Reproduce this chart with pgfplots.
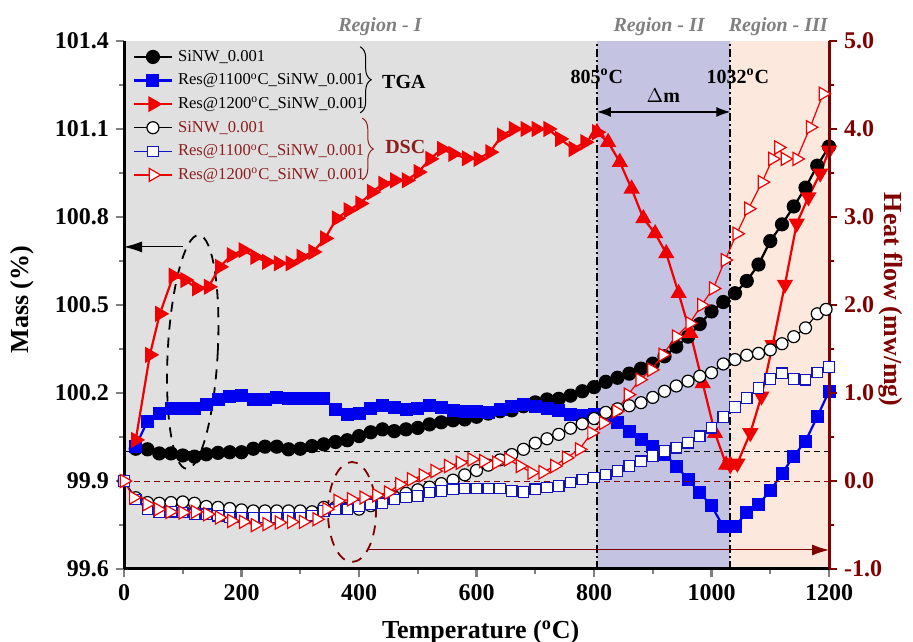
\documentclass[border=0pt]{standalone}
\usepackage{pgfplots}
\pgfplotsset{compat=1.18}
\usepackage{fontspec}
\setmainfont{Liberation Serif}
\usetikzlibrary{decorations.pathreplacing,arrows.meta}
\definecolor{bgI}{RGB}{224,224,224}
\definecolor{bgII}{RGB}{196,196,226}
\definecolor{bgIII}{RGB}{253,232,222}
\definecolor{dbrown}{RGB}{128,0,0}
\definecolor{lbrown}{RGB}{140,30,30}
\definecolor{tred}{RGB}{240,0,0}
\definecolor{tblue}{RGB}{0,0,240}
\definecolor{oblue}{RGB}{20,20,190}
\definecolor{rgray}{RGB}{128,128,128}
\pgfplotsset{
 common/.style={width=352.5pt,height=264pt,scale only axis,xmin=0,xmax=1200,clip=false,
   tick align=outside, major tick length=4pt, minor tick length=2.5pt,
   every tick/.append style={line width=1.1pt},
   tick label style={font=\fontsize{12}{12}\selectfont\bfseries},
   label style={font=\fontsize{13}{13}\selectfont\bfseries},
   /pgf/number format/assume math mode=true,
   /pgf/number format/1000 sep={}},
 tgaK/.style={black, line width=1.1pt, mark=*, mark size=3pt, mark options={solid}},
 tgaB/.style={tblue, line width=1.1pt, mark=square*, mark size=2.7pt, mark options={solid}},
 tgaR/.style={tred, line width=1.1pt, mark=triangle*, mark size=3.6pt, mark options={solid,rotate=-90}},
 dscK/.style={black, line width=0.6pt, mark=*, mark size=3pt, mark options={solid,fill=white}},
 dscB/.style={oblue, line width=0.6pt, mark=square*, mark size=2.6pt, mark options={solid,fill=white}},
 dscR/.style={tred, line width=0.6pt, mark=triangle*, mark size=3.8pt, mark options={solid,fill=white,rotate=-90}},
}
\begin{document}
\begin{tikzpicture}
\path[use as bounding box] (-62pt,-36pt) rectangle (394.5pt,284.5pt);
% ---------------- TGA (left axis) ----------------
\begin{axis}[common, ymin=99.6, ymax=101.4,
  axis x line*=bottom, axis y line*=left, axis line style={line width=1.5pt},
  xtick={0,200,400,600,800,1000,1200}, minor x tick num=1,
  ytick={99.6,99.9,100.2,100.5,100.8,101.1,101.4}, minor y tick num=1,
  yticklabel style={/pgf/number format/.cd,fixed,fixed zerofill,precision=1},
  xlabel={Temperature (\textsuperscript{o}C)}, ylabel={Mass (\%)},
  xlabel style={at={(axis description cs:0.506,-0.119)}, anchor=center},
  ylabel style={at={(axis description cs:-0.145,0.51)}, anchor=center},
  axis on top]
\fill[bgI] (axis cs:0,99.6) rectangle (axis cs:805,101.4);
\fill[bgII] (axis cs:805,99.6) rectangle (axis cs:1032,101.4);
\fill[bgIII] (axis cs:1032,99.6) rectangle (axis cs:1200,101.4);
\draw[black, line width=0.5pt, dash pattern=on 3pt off 2pt] (axis cs:0,100) -- (axis cs:1200,100);
\draw[black, line width=0.9pt, dash pattern=on 4pt off 1.5pt on 1pt off 1.5pt] (axis cs:805,99.6) -- (axis cs:805,101.4);
\draw[black, line width=0.9pt, dash pattern=on 4pt off 1.5pt on 1pt off 1.5pt] (axis cs:1032,99.6) -- (axis cs:1032,101.4);
% Delta m
\draw[{Latex[length=7pt,width=5pt]}-{Latex[length=7pt,width=5pt]}, line width=0.6pt] (axis cs:805,101.158) -- (axis cs:1032,101.158);
\node[font=\fontsize{10}{10}\selectfont\bfseries] at (axis cs:918,101.215) {$\Delta$m};
\node[font=\fontsize{10}{10}\selectfont\bfseries] at (axis cs:805,101.28) {805\textsuperscript{o}C};
\node[font=\fontsize{10}{10}\selectfont\bfseries] at (axis cs:1045,101.28) {1032\textsuperscript{o}C};
% ellipse + arrow
\draw[black, line width=0.9pt, dash pattern=on 5pt off 4pt, rotate around={-3:(axis cs:117,100.34)}] (axis cs:117,100.34) ellipse [x radius=12.5pt, y radius=58.5pt];
\draw[-{Latex[length=9pt,width=5.5pt]}, line width=0.5pt] (axis cs:100,100.698) -- (axis cs:0,100.698);

\addplot[tgaK] coordinates {
(20,100.010)(40,100.008)(60,99.994)(80,99.994)(100,99.987)(120,99.983)(140,99.991)(160,99.996)
(180,99.998)(200,99.998)(220,100.010)(240,100.017)(260,100.017)(280,100.008)(300,100.010)
(320,100.019)(340,100.025)(360,100.033)(380,100.039)(400,100.053)(420,100.066)(440,100.076)
(460,100.070)(480,100.076)(500,100.081)(520,100.093)(540,100.100)(560,100.107)(580,100.110)
(600,100.119)(620,100.130)(640,100.138)(660,100.141)(680,100.155)(700,100.168)(720,100.178)
(740,100.180)(760,100.191)(780,100.206)(800,100.220)(820,100.238)(840,100.252)(860,100.266)
(880,100.283)(900,100.300)(920,100.325)(940,100.358)(960,100.392)(980,100.435)(1000,100.478)
(1020,100.510)(1040,100.540)(1060,100.582)(1080,100.638)(1100,100.718)(1120,100.775)
(1140,100.836)(1160,100.900)(1180,100.975)(1200,101.040)};
\addplot[tgaB] coordinates {
(20,100.019)(40,100.104)(60,100.130)(80,100.147)(100,100.147)(120,100.147)(140,100.160)
(160,100.177)(180,100.189)(200,100.191)(220,100.177)(240,100.177)(260,100.183)(280,100.180)
(300,100.180)(320,100.180)(340,100.180)(360,100.143)(380,100.126)(400,100.130)(420,100.146)
(440,100.157)(460,100.149)(480,100.143)(500,100.146)(520,100.157)(540,100.149)(560,100.141)
(580,100.138)(600,100.138)(620,100.132)(640,100.143)(660,100.153)(680,100.160)(700,100.155)
(720,100.147)(740,100.141)(760,100.126)(780,100.122)(800,100.125)(820,100.120)(840,100.098)
(860,100.070)(880,100.042)(900,100.019)(920,99.991)(940,99.951)(960,99.906)(980,99.860)
(1000,99.815)(1020,99.745)(1040,99.745)(1060,99.793)(1080,99.821)(1100,99.866)(1120,99.926)
(1140,99.985)(1160,100.036)(1180,100.119)(1200,100.206)};
\addplot[tgaR] coordinates {
(20,100.04)(44,100.33)(61,100.47)(84,100.60)(104,100.585)(124,100.557)(144,100.562)(163,100.630)
(183,100.670)(203,100.687)(223,100.664)(243,100.647)(263,100.642)(283,100.642)(302,100.664)
(322,100.681)(342,100.727)(362,100.795)(382,100.823)(402,100.846)(422,100.885)(441,100.913)
(461,100.925)(481,100.925)(501,100.953)(521,100.998)(541,101.032)(560,101.015)(583,101.000)
(603,100.998)(623,101.021)(643,101.078)(663,101.100)(683,101.100)(702,101.100)(722,101.100)
(742,101.066)(765,101.032)(785,101.055)(805,101.089)};
\addplot[tgaR, mark options={solid,rotate=0}] coordinates {
(805,101.089)(824,101.055)(844,100.987)(864,100.896)(884,100.795)(904,100.744)(923,100.676)
(944,100.540)(964,100.404)(985,100.233)(1006,100.063)(1025,99.955)(1032,99.955)};
\addplot[tgaR, mark options={solid,rotate=180}] coordinates {
(1032,99.955)(1044,99.96)(1066,100.064)(1085,100.189)(1104,100.364)(1125,100.57)(1145,100.778)
(1165,100.868)(1185,100.949)(1200,101.027)};
\end{axis}
% ---------------- DSC (right axis) ----------------
\begin{axis}[common, ymin=-1, ymax=5,
  axis x line=none, axis y line*=right,
  y axis line style={dbrown, line width=1.5pt},
  every tick/.append style={dbrown},
  ytick={-1,0,1,2,3,4,5}, minor y tick num=1,
  yticklabel style={dbrown,/pgf/number format/.cd,fixed,fixed zerofill,precision=1},
  ylabel={Heat flow (mw/mg)},
  ylabel style={dbrown, rotate=180, at={(axis description cs:1.087,0.51)}, anchor=center},
  legend cell align=left,
  legend image code/.code={\draw[mark repeat=2,mark phase=2] plot coordinates {(0pt,0pt) (9.5pt,0pt) (19pt,0pt)};},
  legend style={at={(axis description cs:0.012,0.988)}, anchor=north west, draw=none, fill=none,
    font=\fontsize{8.3}{10}\selectfont, row sep=2.6pt, inner sep=0pt, column sep=2.5pt,
    nodes={inner sep=0pt, text height=6.8pt, text depth=2.4pt}}]
\draw[dbrown, line width=0.5pt, dash pattern=on 3pt off 2pt] (axis cs:0,0) -- (axis cs:1200,0);
\draw[dbrown, line width=0.9pt, dash pattern=on 5pt off 4pt] (axis cs:388,-0.352) ellipse [x radius=12pt, y radius=25pt];
\draw[dbrown, line width=0.5pt, -{Latex[length=8.5pt,width=5.5pt]}] (axis cs:415,-0.784) -- (axis cs:1200,-0.784);

\addlegendimage{tgaK}\addlegendentry{SiNW\_0.001}
\addlegendimage{tgaB}\addlegendentry{Res@1100\textsuperscript{o}C\_SiNW\_0.001}
\addlegendimage{tgaR}\addlegendentry{Res@1200\textsuperscript{o}C\_SiNW\_0.001}

\addplot[dscK] coordinates {
(0,0.00)(20,-0.19)(40,-0.245)(60,-0.253)(80,-0.245)(100,-0.238)(120,-0.253)(140,-0.29)(160,-0.30)
(180,-0.313)(200,-0.328)(220,-0.34)(240,-0.34)(260,-0.34)(280,-0.34)(300,-0.34)(320,-0.35)
(340,-0.30)(360,-0.30)(380,-0.31)(400,-0.32)(420,-0.28)(440,-0.22)(460,-0.18)(480,-0.14)
(500,-0.10)(520,-0.07)(540,-0.03)(560,0.01)(580,0.07)(600,0.12)(620,0.18)(640,0.24)(660,0.30)
(680,0.36)(700,0.43)(720,0.48)(740,0.53)(760,0.60)(780,0.65)(800,0.71)(820,0.78)(840,0.82)
(860,0.855)(880,0.89)(900,0.95)(920,1.02)(940,1.08)(960,1.135)(980,1.19)(1000,1.23)(1020,1.33)
(1040,1.38)(1060,1.43)(1080,1.45)(1100,1.49)(1120,1.56)(1140,1.64)(1160,1.74)(1180,1.90)(1195,1.95)};
\addlegendentry{\textcolor{lbrown}{SiNW\_0.001}}
\addplot[dscB] coordinates {
(0,0.0)(20,-0.208)(40,-0.321)(60,-0.358)(80,-0.351)(100,-0.358)(120,-0.377)(140,-0.377)(160,-0.396)
(180,-0.415)(200,-0.415)(220,-0.415)(240,-0.415)(260,-0.415)(280,-0.415)(300,-0.415)(320,-0.396)
(340,-0.340)(360,-0.321)(380,-0.321)(400,-0.283)(420,-0.264)(440,-0.253)(460,-0.208)(480,-0.189)
(500,-0.170)(520,-0.132)(540,-0.113)(560,-0.094)(580,-0.087)(600,-0.087)(620,-0.087)(640,-0.087)
(660,-0.113)(680,-0.125)(700,-0.094)(720,-0.075)(740,-0.057)(760,-0.019)(780,0.019)(800,0.040)
(820,0.075)(840,0.113)(860,0.170)(880,0.226)(900,0.283)(920,0.340)(940,0.377)(960,0.434)
(980,0.509)(1000,0.604)(1020,0.728)(1040,0.842)(1060,0.943)(1080,1.057)(1100,1.159)(1120,1.226)
(1140,1.159)(1160,1.151)(1180,1.234)(1200,1.295)};
\addlegendentry{\textcolor{lbrown}{Res@1100\textsuperscript{o}C\_SiNW\_0.001}}
\addplot[dscR] coordinates {
(0,0.0)(16,-0.188)(39,-0.264)(58,-0.321)(78,-0.351)(100,-0.358)(121,-0.351)(142,-0.377)(162,-0.415)
(183,-0.453)(203,-0.464)(223,-0.502)(243,-0.490)(264,-0.472)(285,-0.464)(305,-0.464)(328,-0.434)
(345,-0.321)(364,-0.226)(387,-0.208)(408,-0.188)(430,-0.162)(450,-0.132)(469,-0.038)(489,0.019)
(509,0.064)(529,0.113)(552,0.170)(572,0.208)(592,0.245)(612,0.226)(634,0.208)(654,0.245)
(674,0.170)(694,0.094)(713,0.100)(733,0.170)(753,0.264)(775,0.359)(796,0.547)(816,0.660)
(838,0.792)(858,0.981)(878,1.151)(898,1.264)(917,1.434)(940,1.641)(963,1.792)(983,1.999)
(1003,2.188)(1023,2.510)(1043,2.810)(1063,3.094)(1086,3.396)(1104,3.660)(1114,3.790)(1125,3.660)
(1145,3.660)(1168,4.020)(1190,4.400)};
\addlegendentry{\textcolor{lbrown}{Res@1200\textsuperscript{o}C\_SiNW\_0.001}}

% braces and group labels
\draw[decorate, decoration={brace, amplitude=5.5pt}, black, line width=0.5pt] (axis description cs:0.335,0.989) -- (axis description cs:0.335,0.864);
\draw[decorate, decoration={brace, amplitude=5.5pt}, lbrown, line width=0.5pt] (axis description cs:0.338,0.854) -- (axis description cs:0.338,0.737);
\node[font=\fontsize{10}{10}\selectfont\bfseries] at (axis description cs:0.397,0.922) {TGA};
\node[font=\fontsize{10}{10}\selectfont\bfseries, text=lbrown] at (axis description cs:0.399,0.799) {DSC};
% region labels
\node[font=\fontsize{10}{10}\selectfont\bfseries\itshape, text=rgray] at (axis description cs:0.363,1.028) {Region - I};
\node[font=\fontsize{10}{10}\selectfont\bfseries\itshape, text=rgray] at (axis description cs:0.759,1.028) {Region - II};
\node[font=\fontsize{10}{10}\selectfont\bfseries\itshape, text=rgray] at (axis description cs:0.928,1.028) {Region - III};
\end{axis}
\end{tikzpicture}
\end{document}
